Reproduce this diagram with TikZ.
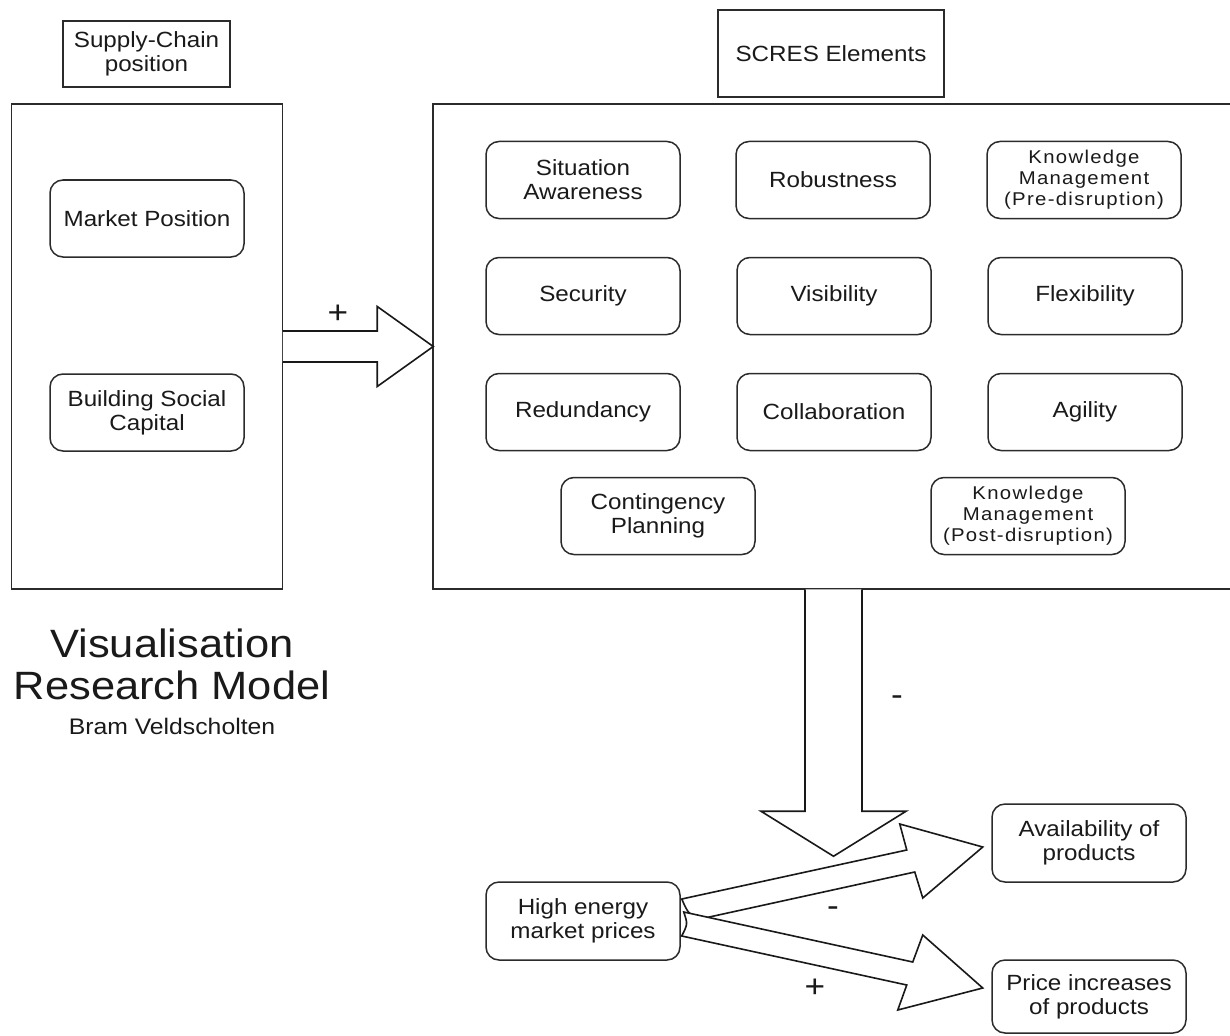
\documentclass[tikz,border=0pt]{standalone}
\usepackage{fontspec}
\setmainfont{Liberation Sans}[FakeStretch=1.1]
\newfontfamily\kmfont{Liberation Sans}[FakeStretch=1.1,LetterSpace=7]
\usetikzlibrary{calc}
\definecolor{linec}{HTML}{2B2B2B}
\definecolor{txt}{HTML}{1A1A1A}
\begin{document}
\begin{tikzpicture}[x=1pt,y=-1pt,
  every node/.style={text=txt},
  plainbox/.style={draw=linec,line width=1.5pt,align=center,inner sep=0pt,
    font=\fontsize{22}{24}\selectfont},
  container/.style={draw=linec,line width=1.5pt,inner sep=0pt},
  elem/.style={draw=linec,line width=1.5pt,rounded corners=13pt,align=center,
    inner sep=0pt,minimum width=194pt,minimum height=77pt,
    font=\fontsize{22}{24}\selectfont},
  kmelem/.style={elem,font=\kmfont\fontsize{18.5}{21}\selectfont},
  blockarrow/.style={draw=black!90,line width=1.6pt,fill=white,line join=miter},
  sign/.style={font=\fontsize{32}{32}\selectfont,inner sep=0pt}]
\useasboundingbox (0,0) rectangle (1230,1035);
\fill[white] (0,0) rectangle (1230,1035);

% left side
\node[plainbox,minimum width=167pt,minimum height=66pt] (sc) at (146.5,54) {Supply-Chain\\position};
\node[container,minimum width=271pt,minimum height=485pt] (leftC) at (147,346.5) {};
\node[elem] (mp) at (147,218.5) {Market Position};
\node[elem] (bsc) at (147,412.5) {Building Social\\Capital};

% title
\node[font=\fontsize{39.5}{42}\selectfont,align=center,inner sep=0pt] (title) at (172,664) {Visualisation\\Research Model};
\node[font=\fontsize{22.5}{24}\selectfont,inner sep=0pt] (author) at (172,726) {Bram Veldscholten};

% right side
\node[plainbox,minimum width=226pt,minimum height=87pt] (scres) at (831,53.5) {SCRES Elements};
\node[container,minimum width=801pt,minimum height=485pt] (rightC) at (833.5,346.5) {};

\node[elem] (sa)  at (583,180) {Situation\\Awareness};
\node[elem] (rob) at (833,180) {Robustness};
\node[kmelem] (kmpre) at (1084,180) {Knowledge\\Management\\(Pre-disruption)};
\node[elem] (sec) at (583,296) {Security};
\node[elem] (vis) at (834,296) {Visibility};
\node[elem] (flex) at (1085,296) {Flexibility};
\node[elem] (red) at (583,412) {Redundancy};
\node[elem] (col) at (834,412) {Collaboration};
\node[elem] (agi) at (1085,412) {Agility};
\node[elem] (cp) at (658,516) {Contingency\\Planning};
\node[kmelem] (kmpost) at (1028,516) {Knowledge\\Management\\(Post-disruption)};

% bottom
\node[elem,minimum height=78pt] (hemp) at (583,921) {High energy\\market prices};
\node[elem,minimum height=78pt] (avail) at (1089,843) {Availability of\\products};
\node[elem,minimum height=73pt] (price) at (1089,996.5) {Price increases\\of products};

% block arrow: supply-chain position -> SCRES elements
\begin{scope}[shift={(leftC.east)}]
  \draw[blockarrow] (-0.5,-15.5) -- (94,-15.5) -- (94,-40) -- (150,0) -- (94,40) -- (94,15.5) -- (-0.5,15.5);
\end{scope}
\node[sign] (plusA) at (338,314) {+};

% block arrow: SCRES elements -> down
\begin{scope}[shift={(rightC.south)}]
  \draw[blockarrow] (-28.5,-0.5) -- (-28.5,221.5) -- (-72.5,221.5) -- (0,266.5) -- (72.5,221.5) -- (28.5,221.5) -- (28.5,-0.5);
\end{scope}
\node[sign] (minusA) at (897,701) {-};

% block arrows from high energy market prices
\begin{scope}[shift={(hemp.east)}]
  \draw[blockarrow] (1,-22) -- (226,-71) -- (219,-97) -- (302,-74) -- (242,-23) -- (234,-49) -- (24,-3)
     .. controls (8,-6) .. cycle;
  \draw[blockarrow] (3,-9) -- (232,41) -- (242,14) -- (302,67) -- (217,89) -- (226,64) -- (1,15)
     .. controls (7,3) .. cycle;
\end{scope}
\node[sign] (minusB) at (833,912) {-};
\node[sign] (plusB) at (815,988) {+};
\end{tikzpicture}
\end{document}
